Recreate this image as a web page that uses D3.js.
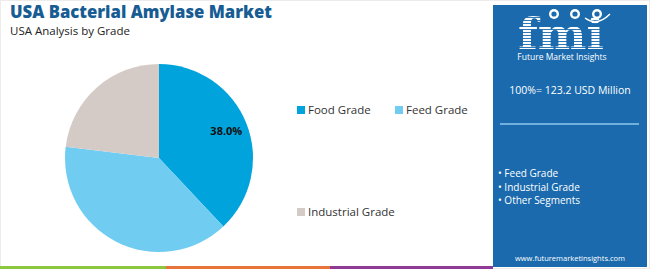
<!DOCTYPE html>
<html>
<head>
<meta charset="utf-8">
<script src="https://cdn.jsdelivr.net/npm/d3@7"></script>
<style>
  body { margin: 0; background: #fff; }
  svg { display: block; font-family: "Open Sans", sans-serif; }
</style>
</head>
<body>
<svg id="chart" width="650" height="269"></svg>
<script>
// chart data
const categories = ["Food Grade", "Feed Grade", "Industrial Grade"];
const shares = [38.0, 38.9, 23.1];
const colors = ["#00a3dc", "#70cdf1", "#d5cbc6"];
const labelled = ["Food Grade"];
const panelTotal = "100%= 123.2 USD Million";
const panelItems = ["Feed Grade", "Industrial Grade", "Other Segments"];

const svg = d3.select("#chart");
const defs = svg.append("defs");

// frame
svg.append("rect").attr("x", 0.5).attr("y", 0.5).attr("width", 649).attr("height", 268)
  .attr("fill", "none").attr("stroke", "#ececec");

// bottom stripe
[["#8dc63f", 0, 166], ["#e8743b", 166, 330], ["#8e3a96", 330, 493]].forEach(s => {
  svg.append("rect").attr("x", s[1]).attr("y", 266).attr("width", s[2] - s[1]).attr("height", 3).attr("fill", s[0]);
});

// titles
svg.append("text").attr("x", 10).attr("y", 18)
  .attr("font-size", 17).attr("font-weight", 800).attr("fill", "#175d93")
  .attr("textLength", 262).attr("lengthAdjust", "spacingAndGlyphs")
  .text("USA Bacterial Amylase Market");
svg.append("text").attr("x", 10).attr("y", 35)
  .attr("font-size", 11.5).attr("fill", "#222")
  .text("USA Analysis by Grade");

// pie
const cx = 159, cy = 158, r = 94;
const pie = d3.pie().sort(null).value(d => d.v);
const arc = d3.arc().innerRadius(0).outerRadius(r);
const data = pie(categories.map((c, i) => ({ c, v: shares[i], col: colors[i] })));
const g = svg.append("g").attr("transform", `translate(${cx},${cy})`);
g.selectAll("path").data(data).enter().append("path")
  .attr("d", arc).attr("fill", d => d.data.col);

const labelArc = d3.arc().innerRadius(r * 0.77).outerRadius(r * 0.77);
g.selectAll("text.lab").data(data.filter(d => labelled.includes(d.data.c))).enter()
  .append("text").attr("class", "lab")
  .attr("transform", d => `translate(${labelArc.centroid(d)})`)
  .attr("text-anchor", "middle").attr("dy", "0.35em")
  .attr("font-size", 11).attr("font-weight", 700).attr("fill", "#111")
  .text(d => d.data.v.toFixed(1) + "%");

// legend
const legendPos = [[297, 110], [395, 110], [297, 212]];
categories.forEach((c, i) => {
  const lg = svg.append("g").attr("transform", `translate(${legendPos[i][0]},${legendPos[i][1]})`);
  lg.append("rect").attr("x", 0).attr("y", -4).attr("width", 8).attr("height", 8).attr("fill", colors[i]);
  lg.append("text").attr("x", 11).attr("y", 0).attr("dy", "0.35em")
    .attr("font-size", 11.5).attr("fill", "#333").text(c);
});

// right panel
const px = 493;
svg.append("rect").attr("x", px).attr("y", 5).attr("width", 154).attr("height", 262).attr("fill", "#1a6aad");

// logo: striped letters, drawn through a clip
const pat = defs.append("pattern").attr("id", "stripes").attr("patternUnits", "userSpaceOnUse")
  .attr("width", 4).attr("height", 3);
pat.append("rect").attr("width", 4).attr("height", 2.1).attr("fill", "#fff");
defs.append("clipPath").attr("id", "fmiClip").append("text")
  .attr("x", 561).attr("y", 49).attr("text-anchor", "middle")
  .attr("font-family", "'DejaVu Serif', serif").attr("font-weight", 700).attr("font-size", 42)
  .attr("textLength", 86).attr("lengthAdjust", "spacingAndGlyphs").text("fmi");
svg.append("rect").attr("x", 510).attr("y", 10).attr("width", 110).attr("height", 42)
  .attr("fill", "url(#stripes)").attr("clip-path", "url(#fmiClip)");
[554, 575, 597].forEach(x => {
  svg.append("circle").attr("cx", x).attr("cy", 14).attr("r", 5).attr("fill", "#fff");
  svg.append("circle").attr("cx", x).attr("cy", 14).attr("r", 2.6).attr("fill", "#1a6aad");
});
svg.append("path").attr("d", "M585,18 Q597,27 610,14").attr("fill", "none").attr("stroke", "#fff").attr("stroke-width", 1.5);
svg.append("text").attr("x", 562).attr("y", 60).attr("text-anchor", "middle")
  .attr("font-size", 8.5).attr("fill", "#fff").text("Future Market Insights");

svg.append("text").attr("x", 570).attr("y", 94).attr("text-anchor", "middle")
  .attr("font-size", 10.5).attr("fill", "#fff").text(panelTotal);
svg.append("line").attr("x1", 500).attr("x2", 639).attr("y1", 124).attr("y2", 124)
  .attr("stroke", "#8cc8ee").attr("stroke-width", 1.5);

panelItems.forEach((t, i) => {
  svg.append("text").attr("x", 498).attr("y", 177 + i * 13.5)
    .attr("font-size", 10).attr("fill", "#fff").text("\u2022 " + t);
});
svg.append("text").attr("x", 570).attr("y", 261).attr("text-anchor", "middle")
  .attr("font-size", 7.5).attr("fill", "#fff").text("www.futuremarketinsights.com");
</script>
</body>
</html>
